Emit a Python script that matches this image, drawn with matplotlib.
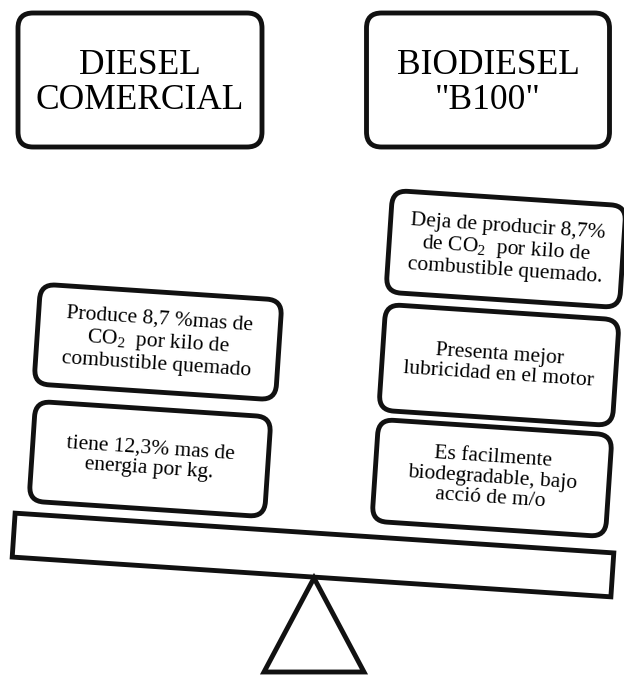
import matplotlib.pyplot as plt
from matplotlib.patches import FancyBboxPatch, Polygon
from matplotlib.transforms import Affine2D

plt.rcParams['font.family'] = ['Liberation Serif', 'DejaVu Serif']
plt.rcParams['mathtext.fontset'] = 'custom'
plt.rcParams['mathtext.rm'] = 'Liberation Serif'
plt.rcParams['mathtext.it'] = 'Liberation Serif:italic'

# texts of the diagram
titles = ['DIESEL\nCOMERCIAL', 'BIODIESEL\n"B100"']
diesel_items = ['Produce 8,7 %mas de\nCO$_\\mathrm{2}$  por kilo de\ncombustible quemado',
                'tiene 12,3% mas de\nenergia por kg.']
bio_items = ['Deja de producir 8,7%\nde CO$_\\mathrm{2}$  por kilo de\ncombustible quemado.',
             'Presenta mejor\nlubricidad en el motor',
             'Es facilmente\nbiodegradable, bajo\nacció de m/o']

tilt = 3.8  # beam slope in degrees (right side down)

fig = plt.figure(figsize=(6.24, 6.75), dpi=100)
ax = fig.add_axes([0, 0, 1, 1])
ax.set_xlim(0, 624)
ax.set_ylim(675, 0)
ax.set_aspect('equal')
ax.axis('off')


def box(cx, cy, w, h, text, angle=0, size=15.5, lw=3.5, r=15, ls=1.1, ty=None):
    tr = Affine2D().rotate_deg_around(cx, cy, angle) + ax.transData
    p = FancyBboxPatch((cx - w / 2, cy - h / 2), w, h,
                       boxstyle=f'round,pad=0,rounding_size={r}',
                       fc='white', ec='#111111', lw=lw, transform=tr)
    ax.add_patch(p)
    ax.text(cx, cy if ty is None else ty, text, ha='center', va='center',
            fontsize=size, rotation=-angle, rotation_mode='anchor',
            linespacing=ls)


# header boxes
box(140, 80, 244, 134, titles[0], size=25.5, ls=1.08, ty=83)
box(488, 80, 243, 134, titles[1], size=25.5, ls=1.08, ty=83)

# left stack
box(158, 342, 242, 100, diesel_items[0], angle=tilt)
box(150, 459, 236, 100, diesel_items[1], angle=tilt)

# right stack
box(506, 249, 234, 102, bio_items[0], angle=tilt)
box(499, 365, 234, 106, bio_items[1], angle=tilt)
box(492, 478, 234, 102, bio_items[2], angle=tilt)

# beam
tr = Affine2D().rotate_deg_around(313, 555, tilt) + ax.transData
beam = Polygon([(13, 533), (613, 533), (613, 577), (13, 577)], closed=True,
               fc='white', ec='#111111', lw=3.5, transform=tr)
ax.add_patch(beam)

# fulcrum
ax.add_patch(Polygon([(314, 578), (264, 672), (364, 672)], closed=True,
                     fc='white', ec='#111111', lw=3.5, joinstyle='miter'))

fig.savefig('out.png', dpi=100)
